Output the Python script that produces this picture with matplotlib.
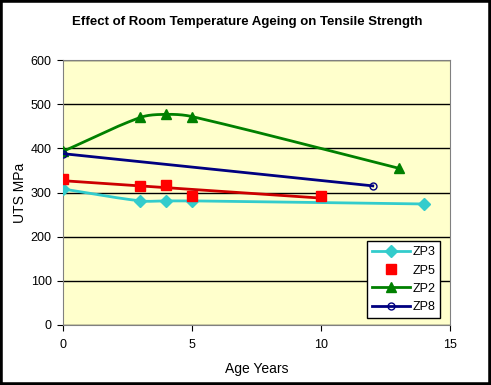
import numpy as np
import matplotlib
matplotlib.use("Agg")
import matplotlib.pyplot as plt
from matplotlib.patches import Rectangle

plt.rcParams['font.family'] = ['Liberation Sans', 'DejaVu Sans']

# data
zp3_x = [0, 3, 4, 5, 14]
zp3_y = [308, 281, 281, 281, 274]
zp5_x = [0, 3, 4, 5, 10]
zp5_y = [330, 315, 318, 292, 292]
zp2_x = [0, 3, 4, 5, 13]
zp2_y = [393, 470, 477, 472, 355]
zp8_x = [0, 12]
zp8_y = [388, 315]

XS, YS = 25.8, 0.442  # rough pixels per data unit, for the smoothing


def smooth(x, y, n=40):
    # Excel-like smoothed line: bezier segments, tangents weighted by chord length
    p = np.column_stack([np.asarray(x, float) * XS, np.asarray(y, float) * YS])
    m = len(p)
    d = np.linalg.norm(np.diff(p, axis=0), axis=1)
    out = [p[0]]
    for i in range(m - 1):
        a, b = p[i], p[i + 1]
        if i == 0:
            c1 = a + (b - a) / 3
        else:
            c1 = a + (b - p[i - 1]) * d[i] / (d[i - 1] + d[i]) / 3
        if i == m - 2:
            c2 = b - (b - a) / 3
        else:
            c2 = b - (p[i + 2] - a) * d[i] / (d[i] + d[i + 1]) / 3
        t = np.linspace(0, 1, n)[1:, None]
        seg = ((1 - t) ** 3) * a + 3 * ((1 - t) ** 2) * t * c1 + 3 * (1 - t) * t ** 2 * c2 + t ** 3 * b
        out.extend(seg)
    out = np.array(out)
    return out[:, 0] / XS, out[:, 1] / YS


fig = plt.figure(figsize=(4.91, 3.85), dpi=100)
fig.patch.set_facecolor('white')
fig.patches.append(Rectangle((0, 0), 1, 1, transform=fig.transFigure,
                             fill=False, edgecolor='black', linewidth=4))
ax = fig.add_axes([0.128, 0.156, 0.789, 0.688])
ax.set_facecolor('#FFFFCC')

c3, c5, c2, c8 = '#33CCCC', '#FF0000', '#008000', '#000080'

sx, sy = smooth(zp3_x, zp3_y)
ax.plot(sx, sy, color=c3, lw=2, zorder=3)
ax.plot(zp3_x, zp3_y, ls='none', marker='D', ms=6, color=c3, zorder=4)
ax.plot([], [], color=c3, lw=2, marker='D', ms=6, label='ZP3')

# ZP5 markers plus linear trend line
fit = np.polyfit(zp5_x, zp5_y, 1)
tx = np.array([min(zp5_x), max(zp5_x)])
ax.plot(tx, np.polyval(fit, tx), color='#CC0000', lw=2, zorder=3)
ax.plot(zp5_x, zp5_y, ls='none', marker='s', ms=7, color=c5, zorder=4, label='ZP5')

sx, sy = smooth(zp2_x, zp2_y)
ax.plot(sx, sy, color=c2, lw=2, zorder=3)
ax.plot(zp2_x, zp2_y, ls='none', marker='^', ms=7, color=c2, zorder=4)
ax.plot([], [], color=c2, lw=2, marker='^', ms=7, label='ZP2')

ax.plot(zp8_x, zp8_y, color=c8, lw=2, marker='o', ms=5, mfc='none', zorder=4, label='ZP8')

ax.set_xlim(0, 15)
ax.set_ylim(0, 600)
ax.set_xticks([0, 5, 10, 15])
ax.set_yticks(range(0, 601, 100))
ax.yaxis.grid(True, color='black', lw=1)
ax.set_axisbelow(True)
for s in ax.spines.values():
    s.set_color('#808080')
ax.tick_params(direction='out', length=4, color='black', labelsize=9, pad=6)
ax.tick_params(axis='y', pad=4)
ax.set_xlabel('Age Years', fontsize=10, labelpad=8)
ax.set_ylabel('UTS MPa', fontsize=10, labelpad=3)
fig.text(0.503, 0.943, 'Effect of Room Temperature Ageing on Tensile Strength',
         ha='center', va='center', fontsize=9.5, fontweight='bold')

leg = ax.legend(loc='lower right', bbox_to_anchor=(0.974, 0.026), borderaxespad=0,
                fontsize=9, frameon=True, fancybox=False, framealpha=1,
                edgecolor='black', handlelength=3, handletextpad=0.2,
                borderpad=0.4, labelspacing=0.5)
leg.get_frame().set_linewidth(1)

fig.savefig('out.png', dpi=100)
